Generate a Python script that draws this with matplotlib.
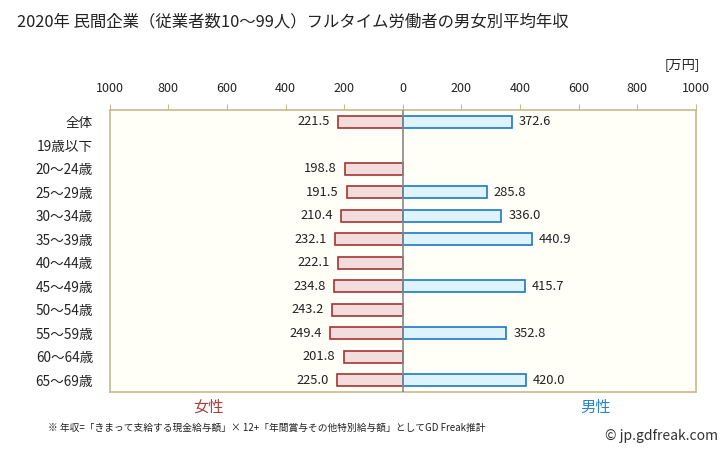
import matplotlib
matplotlib.use("Agg")
import matplotlib.pyplot as plt
import numpy as np

plt.rcParams['font.family'] = ['Noto Sans CJK JP', 'DejaVu Sans']

title = "2020年 民間企業（従業者数10～99人）フルタイム労働者の男女別平均年収"
categories = ["全体", "19歳以下", "20～24歳", "25～29歳", "30～34歳", "35～39歳",
              "40～44歳", "45～49歳", "50～54歳", "55～59歳", "60～64歳", "65～69歳"]
female = [221.5, None, 198.8, 191.5, 210.4, 232.1, 222.1, 234.8, 243.2, 249.4, 201.8, 225.0]
male = [372.6, None, None, 285.8, 336.0, 440.9, None, 415.7, None, 352.8, None, 420.0]
xticks = [-1000, -800, -600, -400, -200, 0, 200, 400, 600, 800, 1000]
xticklabels = ["1000", "800", "600", "400", "200", "0", "200", "400", "600", "800", "1000"]

fig = plt.figure(figsize=(7.28, 4.51), dpi=100)
ax = fig.add_axes([0.1507, 0.1308, 0.956 - 0.1507, 0.7561 - 0.1308])
ax.set_facecolor("#FFFFF8")

f_fill, f_edge = "#F2DCDC", "#A33535"
m_fill, m_edge = "#DDF4FD", "#1E78C8"
h = 0.51
for i, (f, m) in enumerate(zip(female, male)):
    if f is not None:
        ax.barh(i, -f, height=h, color=f_fill, edgecolor=f_edge, linewidth=1.2, zorder=2)
        ax.text(-f - 28, i, f"{f:.1f}", ha="right", va="center", fontsize=9.3, color="#222222")
    if m is not None:
        ax.barh(i, m, height=h, color=m_fill, edgecolor=m_edge, linewidth=1.2, zorder=2)
        ax.text(m + 24, i, f"{m:.1f}", ha="left", va="center", fontsize=9.3, color="#222222")

ax.axvline(0, color="#888888", linewidth=1.2, zorder=3)
ax.set_xlim(-1000, 1000)
ax.set_ylim(len(categories) - 0.5, -0.5)
ax.set_yticks(range(len(categories)))
ax.set_yticklabels(categories, fontsize=9.8, color="#222222")
ax.tick_params(axis="y", length=0, pad=12)
ax.xaxis.tick_top()
ax.set_xticks(xticks)
ax.set_xticklabels(xticklabels, fontsize=9, color="#222222")
ax.tick_params(axis="x", length=4, color="#C8B98C", pad=7)
for s in ax.spines.values():
    s.set_color("#C8B98C")
    s.set_linewidth(1.2)

fig.text(17 / 728, 1 - 22 / 451, title, fontsize=11.8, ha="left", va="center", color="#222222")
fig.text(700 / 728, 1 - 65 / 451, "[万円]", fontsize=9.5, ha="right", va="center", color="#222222")
fig.text(209 / 728, 1 - 407 / 451, "女性", fontsize=11, ha="center", va="center", color="#A84040")
fig.text(596 / 728, 1 - 407 / 451, "男性", fontsize=11, ha="center", va="center", color="#2A84C8")
fig.text(48 / 728, 1 - 428 / 451,
         "※ 年収=「きまって支給する現金給与額」× 12+「年間賞与その他特別給与額」としてGD Freak推計",
         fontsize=7, ha="left", va="center", color="#222222")
fig.text(718 / 728, 1 - 436 / 451, "© jp.gdfreak.com", fontsize=10, ha="right", va="center", color="#333333")

fig.savefig("out.png", dpi=100, facecolor="white")
